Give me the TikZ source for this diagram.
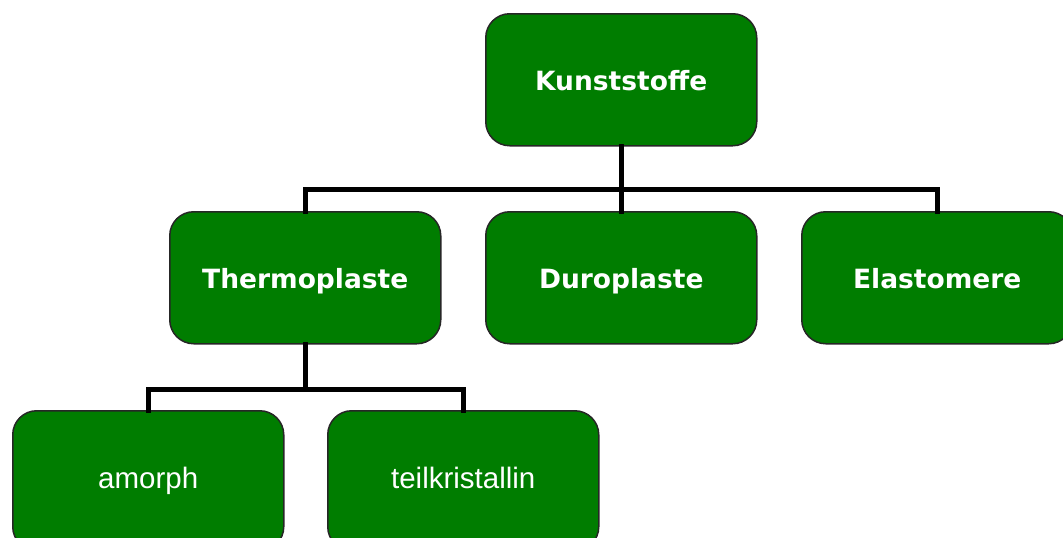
\documentclass[tikz,border=0pt]{standalone}
\usepackage{fontspec}
\setmainfont{Liberation Sans}
\newfontfamily\boldfont{DejaVu Sans}[BoldFont={DejaVu Sans Bold}]
\definecolor{boxgreen}{RGB}{0,125,0}
\begin{document}
\begin{tikzpicture}[x=1pt,y=-1pt,
  box/.style={draw=black!85, line width=1.5pt, fill=boxgreen, rounded corners=24pt,
    minimum width=271pt, minimum height=132pt, inner sep=0pt, text=white, anchor=north west},
  topbox/.style={box, font=\boldfont\bfseries\fontsize{26.5}{30}\selectfont,
    text height=20.6pt, text depth=0pt},
  lowbox/.style={box, font=\fontsize{29.5}{32}\selectfont,
    text height=16pt, text depth=0pt},
  conn/.style={line width=5pt, line cap=rect}]
\useasboundingbox (0,0) rectangle (1063,538);
\node[topbox] (k) at (485,13) {Kunststoffe};
\node[topbox] (t) at (169,211) {Thermoplaste};
\node[topbox] (d) at (485,211) {Duroplaste};
\node[topbox] (e) at (801,211) {Elastomere};
\node[lowbox, minimum height=140pt] (a) at (12,410) {amorph};
\node[lowbox, minimum height=140pt] (tk) at (327,410) {teilkristallin};
\draw[conn] (k.south) -- ++(0,43) coordinate (kj);
\draw[conn] (t.north |- kj) -- (e.north |- kj);
\draw[conn] (t.north |- kj) -- (t.north);
\draw[conn] (d.north |- kj) -- (d.north);
\draw[conn] (e.north |- kj) -- (e.north);
\draw[conn] (t.south) -- ++(0,45) coordinate (tj);
\draw[conn] (a.north |- tj) -- (tk.north |- tj);
\draw[conn] (a.north |- tj) -- (a.north);
\draw[conn] (tk.north |- tj) -- (tk.north);
\end{tikzpicture}
\end{document}
